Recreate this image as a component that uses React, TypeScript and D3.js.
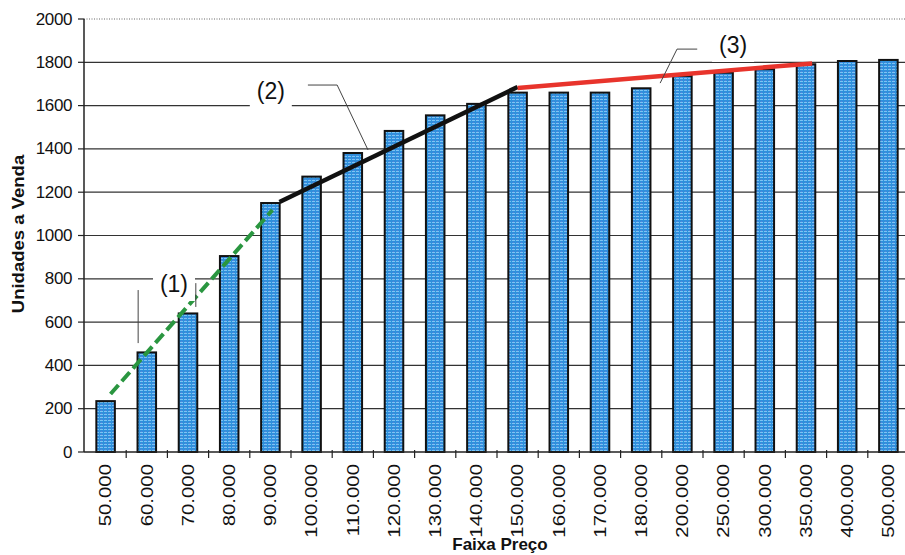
import React from "react";
import * as d3 from "d3";

// Sales potential by price range
const categories = [
  "50.000", "60.000", "70.000", "80.000", "90.000", "100.000", "110.000",
  "120.000", "130.000", "140.000", "150.000", "160.000", "170.000", "180.000",
  "200.000", "250.000", "300.000", "350.000", "400.000", "500.000",
];
const units = [
  235, 460, 640, 905, 1150, 1272, 1381, 1483, 1555, 1608, 1660, 1660, 1660,
  1680, 1737, 1752, 1768, 1791, 1806, 1811,
];
const yTicks = [0, 200, 400, 600, 800, 1000, 1200, 1400, 1600, 1800, 2000];

// Trend segments: [category position, units]
const trend1: [number, number][] = [[0.12, 268], [4.05, 1118]];
const trend2: [number, number][] = [[4.22, 1155], [10.0, 1686]];
const trend3: [number, number][] = [[10.0, 1681], [17.15, 1795]];

// Callouts: label position and leader polylines in [category position, units]
const callouts = [
  { label: "(1)", at: [1.66, 776] as [number, number], leaders: [[[0.79, 748], [0.79, 503]], [[2.19, 780], [2.19, 670]]] as [number, number][][] },
  { label: "(2)", at: [4.01, 1667] as [number, number], leaders: [[[4.91, 1695], [5.62, 1695], [6.37, 1395]]] as [number, number][][] },
  { label: "(3)", at: [15.23, 1880] as [number, number], leaders: [[[14.36, 1861], [13.87, 1861], [13.46, 1704]]] as [number, number][][] },
];

const W = 905;
const H = 555;
const left = 85;
const right = 909;
const top = 19;
const bottom = 452;
const font = "'Liberation Sans', Arial, sans-serif";

export default function App() {
  const x = d3
    .scaleBand<string>()
    .domain(categories)
    .range([left, right])
    .paddingInner(0.55)
    .paddingOuter(0.275);
  const y = d3.scaleLinear().domain([0, 2000]).range([bottom, top]);
  const step = x.step();
  const c0 = (x(categories[0]) ?? 0) + x.bandwidth() / 2;
  const xp = (i: number) => c0 + i * step;
  const line = d3
    .line<[number, number]>()
    .x((d) => xp(d[0]))
    .y((d) => y(d[1]));

  return (
    <svg
      width={W}
      height={H}
      style={{ position: "absolute", left: 0, top: 0, background: "#fff" }}
    >
      <defs>
        <pattern id="barFill" width="4" height="3" patternUnits="userSpaceOnUse">
          <rect width="4" height="3" fill="#2f90dc" />
          <rect x="0" y="0" width="3" height="1" fill="#7cc4f4" />
          <rect x="1" y="2" width="1" height="1" fill="#5b7fd8" />
        </pattern>
      </defs>

      {/* gridlines */}
      {yTicks.map((t) =>
        t === 0 ? null : (
          <line
            key={t}
            x1={left - 1}
            x2={W}
            y1={y(t)}
            y2={y(t)}
            stroke={t === 2000 ? "#666" : "#333"}
            strokeWidth={t === 2000 ? 1 : 1.2}
            strokeDasharray={t === 2000 ? "1 1.5" : undefined}
          />
        )
      )}

      {/* y axis */}
      <line x1={left - 1} x2={left - 1} y1={top} y2={bottom} stroke="#222" strokeWidth={1.5} />
      {yTicks.map((t) => (
        <g key={t}>
          <line x1={left - 7} x2={left - 1} y1={y(t)} y2={y(t)} stroke="#222" strokeWidth={1.2} />
          <text
            x={72}
            y={y(t)}
            textAnchor="end"
            dominantBaseline="central"
            fontFamily={font}
            fontSize={17}
            letterSpacing={-0.4}
            fill="#111"
          >
            {t}
          </text>
        </g>
      ))}

      {/* bars */}
      {categories.map((c, i) => (
        <rect
          key={c}
          x={x(c)}
          y={y(units[i])}
          width={x.bandwidth()}
          height={bottom - y(units[i])}
          fill="url(#barFill)"
          stroke="#111"
          strokeWidth={2}
        />
      ))}

      {/* x axis */}
      <line x1={left - 1} x2={W} y1={bottom} y2={bottom} stroke="#222" strokeWidth={1.5} />
      {categories.map((c, i) => (
        <line
          key={"t" + c}
          x1={left + (i + 1) * step}
          x2={left + (i + 1) * step}
          y1={bottom - 2}
          y2={bottom + 6}
          stroke="#222"
          strokeWidth={1.2}
        />
      ))}
      {categories.map((c) => (
        <text
          key={"l" + c}
          transform={`translate(${(x(c) ?? 0) + x.bandwidth() / 2},${bottom + 12}) rotate(-90) scale(1.2,1)`}
          textAnchor="end"
          dominantBaseline="central"
          fontFamily={font}
          fontSize={17}
          fill="#111"
        >
          {c}
        </text>
      ))}

      {/* trend lines */}
      <path d={line(trend1) ?? ""} stroke="#2a9640" strokeWidth={4} strokeDasharray="12 5" fill="none" />
      <path d={line(trend2) ?? ""} stroke="#111" strokeWidth={4.5} fill="none" />
      <path d={line(trend3) ?? ""} stroke="#e8342c" strokeWidth={4.5} fill="none" />

      {/* callouts */}
      {callouts.map((co) => (
        <g key={co.label}>
          {co.leaders.map((l, k) => (
            <path key={k} d={line(l) ?? ""} stroke="#444" strokeWidth={1} fill="none" />
          ))}
          <rect
            x={xp(co.at[0]) - 21}
            y={y(co.at[1]) - 15}
            width={42}
            height={32}
            fill="#fff"
          />
          <text
            x={xp(co.at[0])}
            y={y(co.at[1])}
            textAnchor="middle"
            dominantBaseline="central"
            fontFamily={font}
            fontSize={23}
            fill="#111"
          >
            {co.label}
          </text>
        </g>
      ))}

      {/* axis titles */}
      <text
        transform={`translate(18,234) rotate(-90) scale(1.09,1)`}
        textAnchor="middle"
        dominantBaseline="central"
        fontFamily={font}
        fontSize={17}
        fontWeight="bold"
        fill="#111"
      >
        Unidades a Venda
      </text>
      <text
        x={500}
        y={550}
        textAnchor="middle"
        fontFamily={font}
        fontSize={17}
        fontWeight="bold"
        fill="#111"
      >
        Faixa Preço
      </text>
    </svg>
  );
}
